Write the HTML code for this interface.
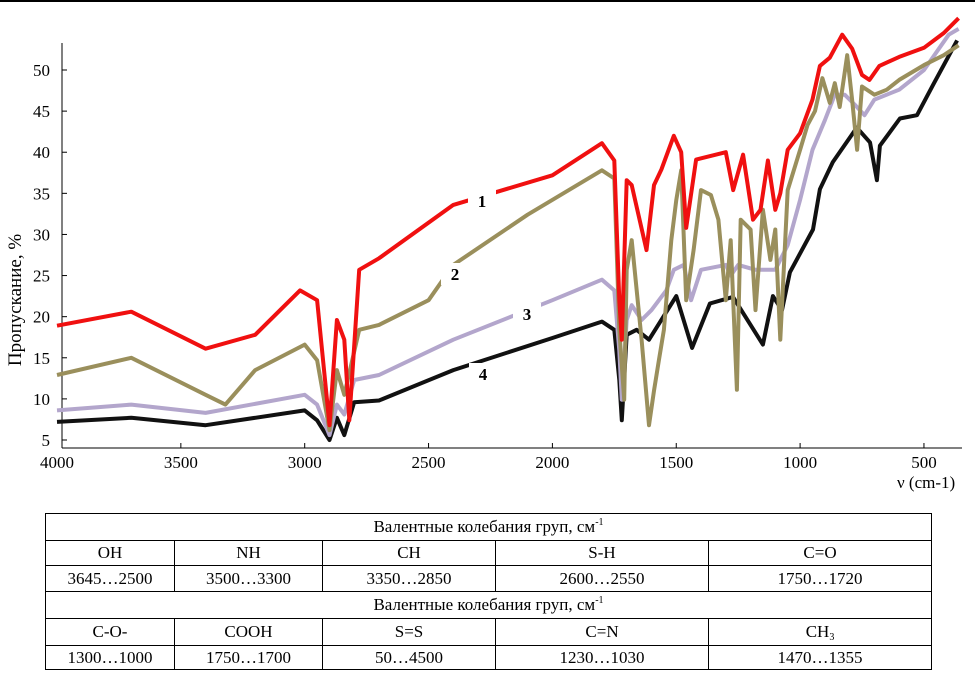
<!DOCTYPE html>
<html><head><meta charset="utf-8"><style>
body{margin:0;background:#fff;width:975px;height:673px;overflow:hidden;font-family:"Liberation Serif",serif}
table{position:absolute;left:45px;top:513px;border-collapse:collapse;font-size:17px;table-layout:fixed}
td{border:1px solid #000;text-align:center;padding:0;line-height:18px;overflow:hidden}
sup,sub{position:relative;font-size:10px;line-height:0;vertical-align:baseline}
sup{top:-7px}sub{top:3px}
</style></head><body>
<div style="position:absolute;left:0;top:0;width:975px;height:2px;background:#000"></div>
<svg id="chart" width="975" height="500" style="position:absolute;left:0;top:0" font-family="Liberation Serif, serif"></svg>
<table>
<tr style="height:27px"><td colspan="5" style="width:884px">Валентные колебания груп, см<sup>-1</sup></td></tr>
<tr style="height:25px"><td style="width:128px">OH</td><td style="width:147px">NH</td><td style="width:172px">CH</td><td style="width:212px">S-H</td><td style="width:222px">C=O</td></tr>
<tr style="height:26px"><td>3645…2500</td><td>3500…3300</td><td>3350…2850</td><td>2600…2550</td><td>1750…1720</td></tr>
<tr style="height:27px"><td colspan="5">Валентные колебания груп, см<sup>-1</sup></td></tr>
<tr style="height:27px"><td>C-O-</td><td>COOH</td><td>S=S</td><td>C=N</td><td>CH<sub>3</sub></td></tr>
<tr style="height:24px"><td>1300…1000</td><td>1750…1700</td><td>50…4500</td><td>1230…1030</td><td>1470…1355</td></tr>
</table>
<script>
const xTicks=[4000,3500,3000,2500,2000,1500,1000,500];
const yTicks=[5,10,15,20,25,30,35,40,45,50];
const v1=[4000,3700,3400,3200,3019,2950,2900,2870,2840,2820,2780,2700,2400,2000,1800,1750,1730,1720,1700,1680,1620,1590,1560,1510,1480,1460,1420,1300,1270,1230,1190,1160,1130,1100,1080,1050,1000,950,920,880,830,790,750,720,680,600,500,420,360];
const s1=[18.9,20.6,16.1,17.8,23.2,22,6.8,19.6,17.2,7.4,25.7,27.1,33.6,37.2,41.1,39,22,17.2,36.6,36,28.1,36,37.9,42,40,30.8,39.1,40,35.4,39.7,31.8,33,39,33,35,40.3,42.3,46.4,50.5,51.5,54.3,52.6,49.4,48.8,50.5,51.6,52.7,54.5,56.3];
const v2=[4000,3700,3400,3320,3200,3000,2950,2900,2870,2840,2780,2700,2500,2400,2100,1800,1750,1730,1710,1700,1680,1640,1610,1590,1570,1550,1520,1500,1480,1460,1430,1400,1360,1330,1300,1280,1255,1240,1200,1180,1150,1120,1100,1080,1050,1000,970,940,910,880,860,840,810,790,770,750,700,650,600,500,420,360];
const s2=[12.9,15,10.5,9.3,13.5,16.6,14.7,6.2,13.5,10.5,18.4,19,22,26.3,32.4,37.8,36.8,18.4,9.9,25.7,29.3,17.2,6.8,11,14.7,18.4,29.3,34.2,37.8,22,28.1,35.4,34.8,31.8,22,29.3,11.1,31.8,30.6,20.8,33,26.9,30.6,17.2,35.4,40.3,43.3,45,49,46,48.4,45.5,51.8,46.4,40.3,48,47,47.6,48.8,50.6,51.8,53];
const v3=[4000,3700,3400,3000,2950,2900,2870,2840,2800,2700,2400,2000,1800,1750,1730,1720,1700,1680,1640,1600,1540,1510,1470,1440,1400,1300,1280,1250,1180,1140,1100,1050,1000,950,900,860,820,780,740,700,600,500,400,360];
const s3=[8.6,9.3,8.3,10.5,9.3,5.6,9.3,8.1,12.3,12.9,17.2,22,24.5,23.2,15.9,9.9,19.6,21.4,19.6,20.8,23.2,25.7,26.3,22,25.7,26.3,25,26.3,25.7,25.7,25.7,28.7,34.2,40.3,43.9,47,47,45.8,44.5,46.4,47.6,50,54.3,55];
const v4=[4000,3700,3400,3000,2950,2900,2870,2840,2800,2700,2400,2000,1800,1750,1730,1720,1700,1660,1610,1500,1436,1364,1271,1150,1110,1073,1041,948,920,868,771,718,690,678,597,528,463,366];
const s4=[7.2,7.7,6.8,8.6,7.4,5,7.7,5.6,9.6,9.8,13.5,17.4,19.4,18.4,12.3,7.4,17.8,18.4,17.2,22.5,16.2,21.6,22.4,16.6,22.5,20.8,25.4,30.6,35.5,38.8,43,41.2,36.6,40.8,44.1,44.5,48.2,53.6];
const X=v=>57+(4000-v)*0.2477, Y=p=>440-(p-5)*8.222;
const svg=document.getElementById('chart'),NS='http://www.w3.org/2000/svg';
function mk(t,a,txt){const e=document.createElementNS(NS,t);for(const k in a)e.setAttribute(k,a[k]);if(txt!=null)e.textContent=txt;svg.appendChild(e);return e;}
let e=mk('line',{x1:62,y1:43,x2:62,y2:448,stroke:'#000'});


e=mk('line',{x1:62,y1:448,x2:962,y2:448,stroke:'#000'});


xTicks.forEach(t=>{const l=mk('line',{x1:Math.max(62,X(t)),y1:448,x2:Math.max(62,X(t)),y2:443,stroke:'#000'});


const s=mk('text',{x:X(t),y:468,'text-anchor':'middle','font-size':17},t);

});
yTicks.forEach(t=>{const l=mk('line',{x1:62,y1:Y(t),x2:67,y2:Y(t),stroke:'#000'});


const s=mk('text',{x:50,y:Y(t)+6,'text-anchor':'end','font-size':17},t);

});
e=mk('text',{x:0,y:0,transform:'translate(21,300) rotate(-90)','text-anchor':'middle','font-size':19},'Пропускание, %');


e=mk('text',{x:897,y:488,'font-size':17},'ν (cm-1)');


const series=[[v4,s4,'#111','series-4'],[v3,s3,'#b3a6cc','series-3'],[v2,s2,'#9a8f5c','series-2'],[v1,s1,'#f01010','series-1']];
series.forEach(([v,s,c,n])=>{const p=mk('polyline',{points:v.map((w,i)=>X(w).toFixed(1)+','+Y(s[i]).toFixed(1)).join(' '),fill:'none',stroke:c,'stroke-width':4,'stroke-linejoin':'round'});

});
[['1',482,207],['2',455,280],['3',527,320],['4',483,380]].forEach(([t,x,y])=>{const r=mk('rect',{x:x-14,y:y-17,width:28,height:22,fill:'#fff'});


const s=mk('text',{x:x,y:y,'text-anchor':'middle','font-size':17,'font-weight':'bold'},t);

});
</script>
</body></html>
